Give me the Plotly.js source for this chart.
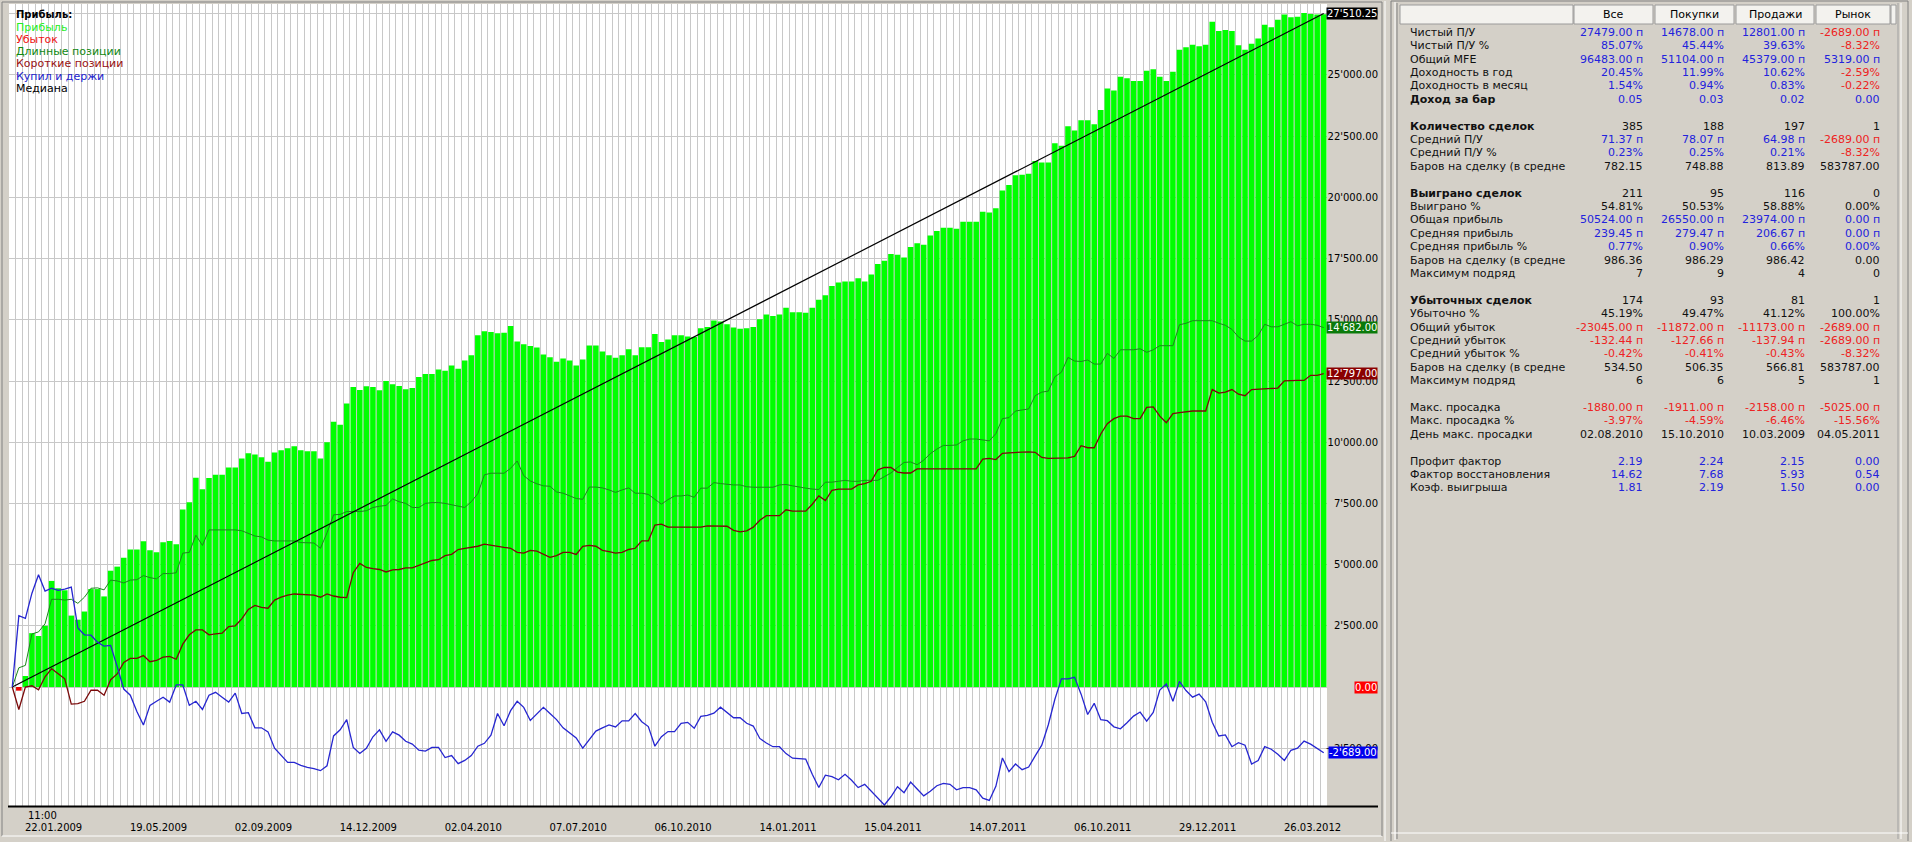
<!DOCTYPE html>
<html><head><meta charset="utf-8">
<script src="https://cdn.plot.ly/plotly-3.0.1.min.js"></script>
<style>html,body{margin:0;padding:0;background:#d4d0c8;overflow:hidden}</style>
</head><body><div id="chart" style="width:1912px;height:842px"></div>
<script>
// ---------- DATA ----------
const profit = [-150,450,2200,2083,2500,4333,4033,3950,2917,2750,3083,4000,4000,3700,4750,4917,5283,5617,5617,5950,
5583,5500,5917,5967,5833,7250,7550,8550,8083,8533,8667,8667,8967,8967,9333,9550,9500,9383,9200,9583,
9667,9750,9833,9667,9633,9633,9333,10000,10833,10717,11583,12250,12133,12283,12250,12117,12500,12367,12300,12167,
12217,12667,12783,12783,12967,12917,13133,13000,13333,13550,14367,14533,14500,14450,14467,14750,14117,14000,13930,13867,
13583,13467,13283,13417,13333,13133,13383,13950,13950,13700,13550,13450,13550,13800,13550,13883,13883,14417,14089,14200,
14370,14370,14314,14300,14652,14708,14970,14933,14820,14689,14633,14652,14708,15027,15214,15158,15214,15496,15308,15308,
15289,15496,15815,16002,16377,16528,16565,16565,16696,16565,16846,17278,17409,17690,17653,17541,17972,18122,18066,18441,
18629,18760,18760,18723,19004,19004,19004,19417,19380,19560,20277,20507,20903,20924,20965,21486,21423,21423,22215,22111,
22903,22736,23153,23153,22987,23570,24445,24362,24925,24862,24758,24758,25175,25237,24925,24758,25133,26029,26133,26237,
26175,26237,27175,26800,26842,26800,26217,26029,26279,26488,27050,26946,27259,27467,27363,27384,27530,27488,27467,27479];

const longPos = [0,783,883,2167,2250,2583,3583,3583,3550,3583,3417,3667,4033,4050,3967,4367,4333,4250,4367,4383,
4550,4467,4417,4633,4633,4667,5467,5500,6200,5783,6417,6417,6417,6417,6417,6383,6283,6167,6133,6000,
5967,5967,5967,5967,5900,5883,5883,5667,6300,7033,7050,7167,7167,7167,7200,7333,7383,7417,7683,7567,
7500,7333,7333,7500,7533,7533,7500,7450,7383,7333,7567,7900,8667,8733,8733,8733,8933,9233,8633,8417,
8300,8217,8200,7967,7917,7800,7700,7667,8167,8167,8133,8050,7950,8050,8133,7917,7917,7867,7667,7470,
7654,7804,7804,7842,7748,8123,8123,8348,8311,8273,8254,8254,8179,8161,8161,8179,8161,8254,8273,8217,
8161,8123,8086,8067,8367,8367,8404,8442,8404,8404,8442,8442,8442,8592,8742,8967,9174,9192,9080,9267,
9530,9718,9868,9868,9887,10055,10130,10130,10093,10055,10350,10962,11004,11274,11316,11358,11900,12046,12087,12671,
12858,13463,13317,13296,13358,13192,13192,13629,13421,13775,13775,13775,13817,13671,13775,13942,13942,13942,14796,14859,
14963,14963,14963,14963,14859,14776,14609,14296,14130,14130,14359,14817,14713,14713,14817,14921,14755,14817,14817,14776,14682];

const shortPos = [0,-917,0,50,-117,417,750,550,333,-700,-683,-583,-133,-133,-333,300,533,1000,1167,1167,
1283,1033,1083,1217,1250,1133,1750,2133,2333,2333,2133,2167,2200,2467,2500,2783,3167,3333,3250,3217,
3550,3667,3750,3800,3783,3750,3750,3667,3800,3717,3667,3650,4667,5050,4883,4833,4800,4700,4783,4800,
4867,4867,4967,5083,5167,5200,5367,5417,5617,5667,5700,5750,5833,5783,5750,5700,5667,5500,5467,5583,
5550,5417,5300,5367,5500,5500,5417,5750,5783,5750,5583,5533,5467,5500,5617,5667,5967,5967,6617,6650,
6528,6528,6528,6528,6528,6528,6585,6585,6585,6566,6397,6341,6378,6528,6810,6997,6997,6997,7241,7185,
7185,7185,7466,7804,7617,8029,8086,8086,8086,8254,8311,8404,8873,8967,8967,8780,8742,8742,8911,8911,
8911,8930,8930,8930,8930,8930,8930,8911,9305,9342,9290,9545,9566,9586,9607,9607,9586,9378,9337,9337,
9337,9357,9420,9857,9774,9774,10337,10753,10962,11066,11066,10962,10962,11420,11441,11066,10795,11170,11212,11254,
11274,11274,11274,12150,12004,12046,12150,11962,11900,12150,12171,12171,12212,12212,12504,12525,12525,12525,12733,12733,12797];

const buyHold = [0,2917,2800,3833,4583,3917,4033,3950,4000,4083,2417,2133,2117,1833,1667,1700,833,-83,-333,-1000,
-1550,-750,-583,-417,-617,83,83,-750,-583,-917,-333,-217,-417,-617,-250,-1083,-1050,-1667,-1667,-1833,
-2500,-2800,-3083,-3083,-3200,-3283,-3333,-3417,-3217,-2000,-1750,-1333,-2467,-2717,-2500,-2033,-1750,-2217,-1833,-1967,
-2217,-2333,-2583,-2617,-2467,-2467,-2883,-2800,-3133,-3000,-2800,-2417,-2300,-1967,-1083,-1583,-967,-583,-833,-1367,
-1083,-833,-1083,-1333,-1667,-1883,-2083,-2500,-2133,-1800,-1667,-1550,-1633,-1383,-1383,-1083,-1417,-1617,-2417,-2030,
-1820,-1820,-1482,-1445,-1688,-1201,-1163,-1069,-826,-1032,-1257,-1257,-1482,-1595,-2101,-2289,-2439,-2439,-2720,-2908,
-2927,-2945,-3564,-4108,-3602,-3658,-3790,-3564,-3808,-4108,-3977,-4259,-4502,-4821,-4484,-4071,-4315,-3883,-4165,-4446,
-4259,-4033,-3940,-3977,-4202,-4108,-4108,-4202,-4540,-4634,-4060,-2897,-3459,-3147,-3376,-3272,-2813,-2376,-1542,-500,
333,333,396,-292,-1125,-667,-1334,-1375,-1626,-1709,-1459,-1188,-1021,-1396,-1042,-125,125,-584,229,-146,
-417,-292,-604,-1438,-2001,-1959,-2438,-2272,-2376,-3147,-3001,-2438,-2542,-2751,-3001,-2584,-2501,-2209,-2334,-2501,-2689];

const medianEnds = [0, 27510.25];

const dateLabels = ["22.01.2009","19.05.2009","02.09.2009","14.12.2009","02.04.2010","07.07.2010","06.10.2010",
"14.01.2011","15.04.2011","14.07.2011","06.10.2011","29.12.2011","26.03.2012"];
const firstTime = "11:00";

const legendTitle = "Прибыль:";
const legendItems = ["Прибыль","Убыток","Длинные позиции","Короткие позиции","Купил и держи","Медиана"];

const tableHeader = ["Все","Покупки","Продажи","Рынок"];
const tableLabels = ["Чистый П/У","Чистый П/У %","Общий MFE","Доходность в год","Доходность в месяц","Доход за бар","",
"Количество сделок","Средний П/У","Средний П/У %","Баров на сделку (в средне","",
"Выиграно сделок","Выиграно %","Общая прибыль","Средняя прибыль","Средняя прибыль %","Баров на сделку (в средне","Максимум подряд","",
"Убыточных сделок","Убыточно %","Общий убыток","Средний убыток","Средний убыток %","Баров на сделку (в средне","Максимум подряд","",
"Макс. просадка","Макс. просадка %","День макс. просадки","",
"Профит фактор","Фактор восстановления","Коэф. выигрыша"];
const colAll = ["27479.00 п","85.07%","96483.00 п","20.45%","1.54%","0.05","",
"385","71.37 п","0.23%","782.15","",
"211","54.81%","50524.00 п","239.45 п","0.77%","986.36","7","",
"174","45.19%","-23045.00 п","-132.44 п","-0.42%","534.50","6","",
"-1880.00 п","-3.97%","02.08.2010","",
"2.19","14.62","1.81"];
const colBuy = ["14678.00 п","45.44%","51104.00 п","11.99%","0.94%","0.03","",
"188","78.07 п","0.25%","748.88","",
"95","50.53%","26550.00 п","279.47 п","0.90%","986.29","9","",
"93","49.47%","-11872.00 п","-127.66 п","-0.41%","506.35","6","",
"-1911.00 п","-4.59%","15.10.2010","",
"2.24","7.68","2.19"];
const colSell = ["12801.00 п","39.63%","45379.00 п","10.62%","0.83%","0.02","",
"197","64.98 п","0.21%","813.89","",
"116","58.88%","23974.00 п","206.67 п","0.66%","986.42","4","",
"81","41.12%","-11173.00 п","-137.94 п","-0.43%","566.81","5","",
"-2158.00 п","-6.46%","10.03.2009","",
"2.15","5.93","1.50"];
const colMarket = ["-2689.00 п","-8.32%","5319.00 п","-2.59%","-0.22%","0.00","",
"1","-2689.00 п","-8.32%","583787.00","",
"0","0.00%","0.00 п","0.00 п","0.00%","0.00","0","",
"1","100.00%","-2689.00 п","-2689.00 п","-8.32%","583787.00","1","",
"-5025.00 п","-15.56%","04.05.2011","",
"0.00","0.54","0.00"];

// ---------- STYLE ----------
const boldRows = [5,7,12,20];
const rowColors = ["bbbr","bbbr","bbbb","bbbr","bbbr","bbbb","",
"kkkk","bbbr","bbbr","kkkk","",
"kkkk","kkkk","bbbb","bbbb","bbbb","kkkk","kkkk","",
"kkkk","kkkk","rrrr","rrrr","rrrr","kkkk","kkkk","",
"rrrr","rrrr","kkkk","",
"bbbb","bbbb","bbbb"];
const cMap = {b:"#2222dd", r:"#ee2222", k:"#111111"};
const legendColors = ["#22ee22","#ee1111","#118811","#991111","#2222cc","#000000"];

const W = 1912, H = 842;
const px = v => v / W;
const py = v => 1 - v / H;
const fmt = v => {
  const s = Math.abs(v).toFixed(2).split('.');
  return (v < 0 ? '-' : '') + s[0].replace(/\B(?=(\d{3})+(?!\d))/g, "'") + '.' + s[1];
};

const barX = profit.map((_, i) => i);
const lineX = longPos.map((_, k) => k - 1);
const N = profit.length;

const traces = [
  {type:'bar', x:barX, y:profit, marker:{color:profit.map(v => v < 0 ? '#ee0000' : '#00ff00'), line:{width:0}}, hoverinfo:'skip'},
  {type:'scatter', mode:'lines', x:lineX, y:longPos, line:{color:'#1a8a1a', width:1}, hoverinfo:'skip'},
  {type:'scatter', mode:'lines', x:lineX, y:shortPos, line:{color:'#7a0a0a', width:1.3}, hoverinfo:'skip'},
  {type:'scatter', mode:'lines', x:[-1, N - 1], y:medianEnds, line:{color:'#000000', width:1.2}, hoverinfo:'skip'},
  {type:'scatter', mode:'lines', x:lineX, y:buyHold, line:{color:'#2626d0', width:1.3}, hoverinfo:'skip'}
];

const annotations = [];
// legend
annotations.push({xref:'paper', yref:'paper', x:px(14), y:py(15), xanchor:'left', yanchor:'middle', showarrow:false,
  text:'<b>' + legendTitle + '</b>', font:{size:10, color:'#000'}});
legendItems.forEach((t, i) => annotations.push({xref:'paper', yref:'paper', x:px(14), y:py(27.3 + 12.2 * i),
  xanchor:'left', yanchor:'middle', showarrow:false, text:t, font:{size:11, color:legendColors[i]}}));

// right value boxes
const lossNow = Math.min(0, profit[N - 1]);
[[medianEnds[1], '#000000'], [longPos[longPos.length - 1], '#0a7a0a'], [shortPos[shortPos.length - 1], '#8a0000'],
 [lossNow, '#ff0000'], [buyHold[buyHold.length - 1], '#0000ee']].forEach(([v, c]) =>
  annotations.push({xref:'paper', yref:'y', x:px(1378), y:v, xanchor:'right', yanchor:'middle', showarrow:false,
    text:fmt(v), bgcolor:c, borderpad:0, font:{size:10, color:'#ffffff'}}));

// time label
annotations.push({xref:'paper', yref:'paper', x:px(26), y:py(815), xanchor:'left', yanchor:'middle', showarrow:false,
  text:firstTime, font:{size:10, color:'#000'}});

// table header
const hdrCells = [[1400,1573],[1574,1653],[1655,1734],[1736,1814],[1816,1890],[1891,1896]];
tableHeader.forEach((t, i) => {
  const c = hdrCells[i + 1];
  annotations.push({xref:'paper', yref:'paper', x:px((c[0] + c[1]) / 2), y:py(15), xanchor:'center', yanchor:'middle',
    showarrow:false, text:t, font:{size:11, color:'#000'}});
});
// table body
const valRight = [1645, 1726, 1807, 1882];
const cols = [colAll, colBuy, colSell, colMarket];
tableLabels.forEach((lab, r) => {
  if (!lab) return;
  const y = py(32.3 + 13.4 * r);
  const bold = boldRows.includes(r);
  annotations.push({xref:'paper', yref:'paper', x:px(1408), y, xanchor:'left', yanchor:'middle', showarrow:false,
    text: bold ? '<b>' + lab + '</b>' : lab, font:{size:11, color:'#111'}});
  cols.forEach((col, ci) => annotations.push({xref:'paper', yref:'paper', x:px(valRight[ci]), y, xanchor:'right',
    yanchor:'middle', showarrow:false, text:col[r], font:{size:11, color:cMap[rowColors[r][ci]]}}));
});

const shapes = [];
const ln = (x0, y0, x1, y1, c, w) => shapes.push({type:'line', xref:'paper', yref:'paper',
  x0:px(x0), y0:py(y0), x1:px(x1), y1:py(y1), line:{color:c, width:w || 1}});
// chart panel frame
ln(2, 2, 2, 836, '#808080'); ln(2, 2, 1382, 2, '#808080');
ln(2, 836, 1382, 836, '#ffffff'); ln(1382, 2, 1382, 836, '#808080');
ln(1385, 1, 1385, 841, '#ffffff');
// table panel frame
ln(1391, 1, 1391, 841, '#808080'); ln(1395, 2, 1395, 840, '#ffffff');
ln(1397, 3, 1397, 839, '#808080');
ln(1898, 3, 1898, 839, '#a0a0a0'); ln(1901, 3, 1901, 839, '#ffffff');
ln(1908, 1, 1908, 841, '#808080');
ln(1391, 1, 1908, 1, '#808080'); ln(1391, 833, 1908, 833, '#ffffff');
// header cells
hdrCells.forEach(c => shapes.push({type:'rect', xref:'paper', yref:'paper', x0:px(c[0]), x1:px(c[1]),
  y0:py(24), y1:py(5), fillcolor:'#f3f2ee', line:{color:'#9a9a9a', width:1}}));
// x axis line
ln(8, 806.5, 1378, 806.5, '#000000', 2);

const tickvals = dateLabels.map((_, k) => 5.3 + 16 * k);

const layout = {
  width:W, height:H, margin:{l:0, r:0, t:0, b:0},
  paper_bgcolor:'#d4d0c8', plot_bgcolor:'#ffffff',
  font:{family:'DejaVu Sans', size:10, color:'#000'},
  separators:".'", showlegend:false, bargap:0.15, hovermode:false,
  xaxis:{domain:[px(9), px(1327)], range:[-1.5, N - 0.5], tickmode:'array', tickvals, ticktext:dateLabels,
    showgrid:false, zeroline:false, showline:false, ticks:'', ticklabelstandoff:14, tickfont:{size:10},
    minor:{tickmode:'linear', tick0:-0.5, dtick:1, showgrid:true, gridcolor:'#c8c8c8', gridwidth:1, ticks:''},
    fixedrange:true},
  yaxis:{domain:[py(806), py(4)], range:[-4861, 27900], anchor:'free', position:px(1378), side:'left',
    tickmode:'linear', tick0:0, dtick:2500, tickformat:',.2f', showgrid:true, gridcolor:'#c8c8c8',
    zeroline:false, showline:false, ticks:'', tickfont:{size:10}, fixedrange:true},
  annotations, shapes
};

Plotly.newPlot('chart', traces, layout, {staticPlot:true, displayModeBar:false});
</script></body></html>
